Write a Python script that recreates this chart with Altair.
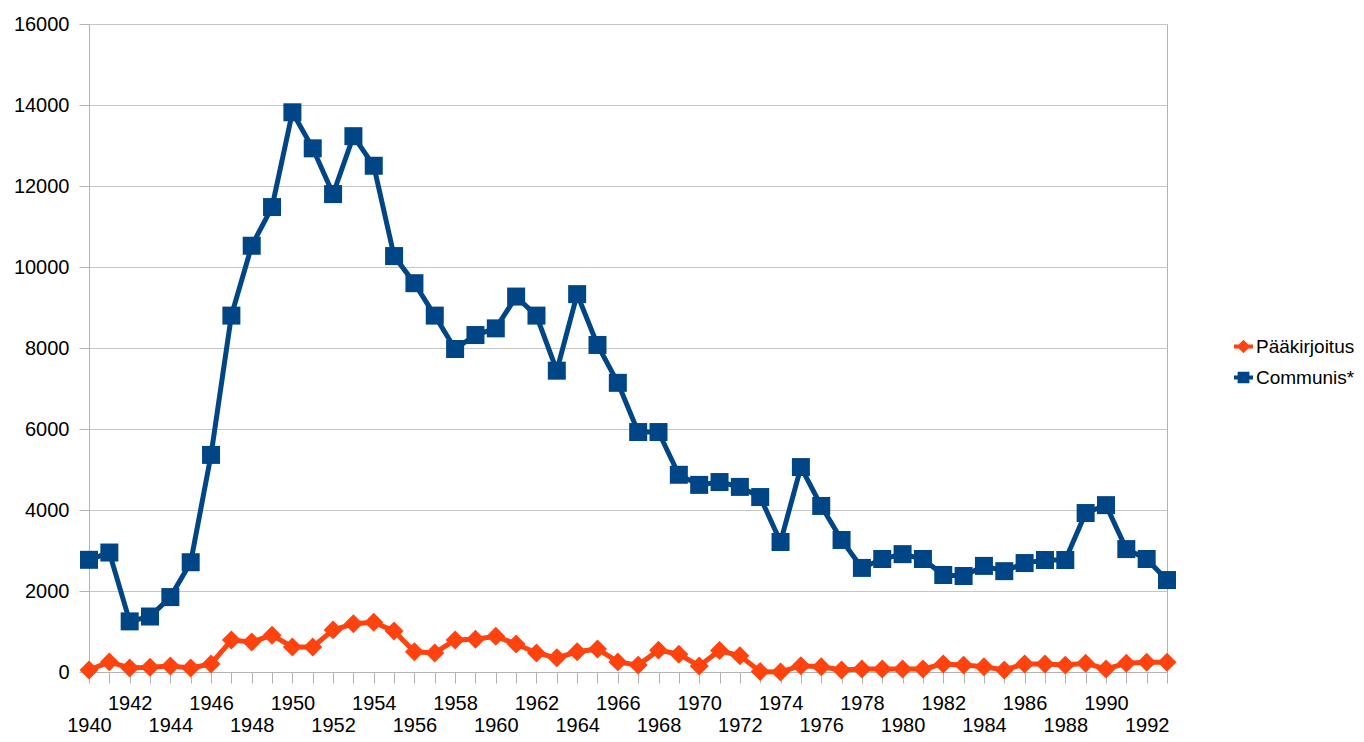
import altair as alt
import pandas as pd

years = list(range(1940, 1994))

paakirjoitus = [
    50, 250, 100, 120, 150, 100, 200, 790, 740, 910,
    620, 620, 1040, 1190, 1230, 1010, 500, 470, 790, 810,
    880, 690, 470, 350, 500, 570, 250, 170, 540, 440,
    150, 530, 400, 10, 0, 155, 130, 50, 75, 75,
    75, 75, 200, 170, 130, 50, 200, 200, 170, 215,
    75, 215, 240, 240,
]

communis = [
    2770, 2950, 1250, 1370, 1850, 2710, 5360, 8800, 10525, 11480,
    13820, 12930, 11800, 13230, 12500, 10270, 9600, 8800, 7975, 8320,
    8485, 9270, 8800, 7440, 9330, 8075, 7140, 5925, 5925, 4870,
    4620, 4690, 4570, 4320, 3210, 5060, 4100, 3260, 2570, 2790,
    2910, 2790, 2395, 2370, 2620, 2490, 2690, 2765, 2765, 3925,
    4120, 3035, 2790, 2270,
]

series_names = ["Pääkirjoitus", "Communis*"]
series_colors = ["#ff420e", "#004586"]
y_ticks = list(range(0, 16001, 2000))

rows = []
for i, yr in enumerate(years):
    rows.append({"year": yr, "series": series_names[0], "value": paakirjoitus[i]})
    rows.append({"year": yr, "series": series_names[1], "value": communis[i]})
df = pd.DataFrame(rows)

FONT = "Liberation Sans"

x_enc = alt.X(
    "year:Q",
    scale=alt.Scale(domain=[1940, 1993], nice=False, zero=False),
    axis=alt.Axis(
        values=years,
        format="d",
        labelExpr="datum.value % 4 == 2 ? datum.label : (datum.value % 4 == 0 ? ['', datum.label] : '')",
        labelOverlap=False,
        labelBound=False,
        labelFlush=False,
        labelLineHeight=22,
        labelBaseline="top",
        tickSize=11,
        labelPadding=10,
        grid=False,
        title=None,
    ),
)
y_enc = alt.Y(
    "value:Q",
    scale=alt.Scale(domain=[0, 16000], nice=False),
    axis=alt.Axis(
        values=y_ticks,
        format="d",
        tickSize=10,
        labelPadding=10,
        grid=True,
        title=None,
    ),
)

base = alt.Chart(df)

layers = []
shapes = ["diamond", "square"]
sizes = [360, 324]
for name, col in zip(series_names, series_colors):
    layers.append(
        base.transform_filter(alt.datum.series == name)
        .mark_line(color=col, strokeWidth=5)
        .encode(x=x_enc, y=y_enc)
    )
for name, col, shp, sz in zip(series_names, series_colors, shapes, sizes):
    layers.append(
        base.transform_filter(alt.datum.series == name)
        .mark_point(color=col, shape=shp, size=sz, filled=True, opacity=1, strokeWidth=0)
        .encode(x=x_enc, y=y_enc)
    )

legend_paths = [
    "M-1,-0.2L-0.5,-0.2L0,-0.7L0.5,-0.2L1,-0.2L1,0.2L0.5,0.2L0,0.7L-0.5,0.2L-1,0.2Z",
    "M-1,-0.2L-0.62,-0.2L-0.62,-0.6L0.62,-0.6L0.62,-0.2L1,-0.2L1,0.2L0.62,0.2L0.62,0.6L-0.62,0.6L-0.62,0.2L-1,0.2Z",
]

# legend carrier: no marks drawn (all rows filtered out), explicit domains give the entries
legend_layer = (
    base.transform_filter("datum.value < 0")
    .mark_point(filled=True, size=324, strokeWidth=0, opacity=1)
    .encode(
        x=x_enc,
        y=y_enc,
        color=alt.Color(
            "series:N",
            scale=alt.Scale(domain=series_names, range=series_colors),
            legend=alt.Legend(
                title=None,
                orient="none",
                legendX=1145,
                legendY=313,
                symbolOpacity=1,
                symbolStrokeWidth=0,
                symbolSize=360,
                labelFontSize=19,
                labelFont=FONT,
                labelColor="#000000",
                labelOffset=3,
                rowPadding=11,
                padding=0,
            ),
        ),
        shape=alt.Shape(
            "series:N",
            scale=alt.Scale(domain=series_names, range=legend_paths),
        ),
    )
)
layers.append(legend_layer)

chart = (
    alt.layer(*layers)
    .properties(
        width=1078,
        height=648,
        autosize=alt.AutoSizeParams(type="none"),
        padding={"left": 81, "top": 16, "right": 189, "bottom": 62},
        background="#ffffff",
    )
    .configure_view(stroke="#b3b3b3", strokeWidth=1)
    .configure_axis(
        labelFont=FONT,
        labelFontSize=20,
        labelColor="#000000",
        domainColor="#b3b3b3",
        tickColor="#b3b3b3",
        gridColor="#c6c6c6",
        domainWidth=1,
        tickWidth=1,
        gridWidth=1,
    )
)

chart.save("out.html", embed_options={"renderer": "svg", "actions": False})
